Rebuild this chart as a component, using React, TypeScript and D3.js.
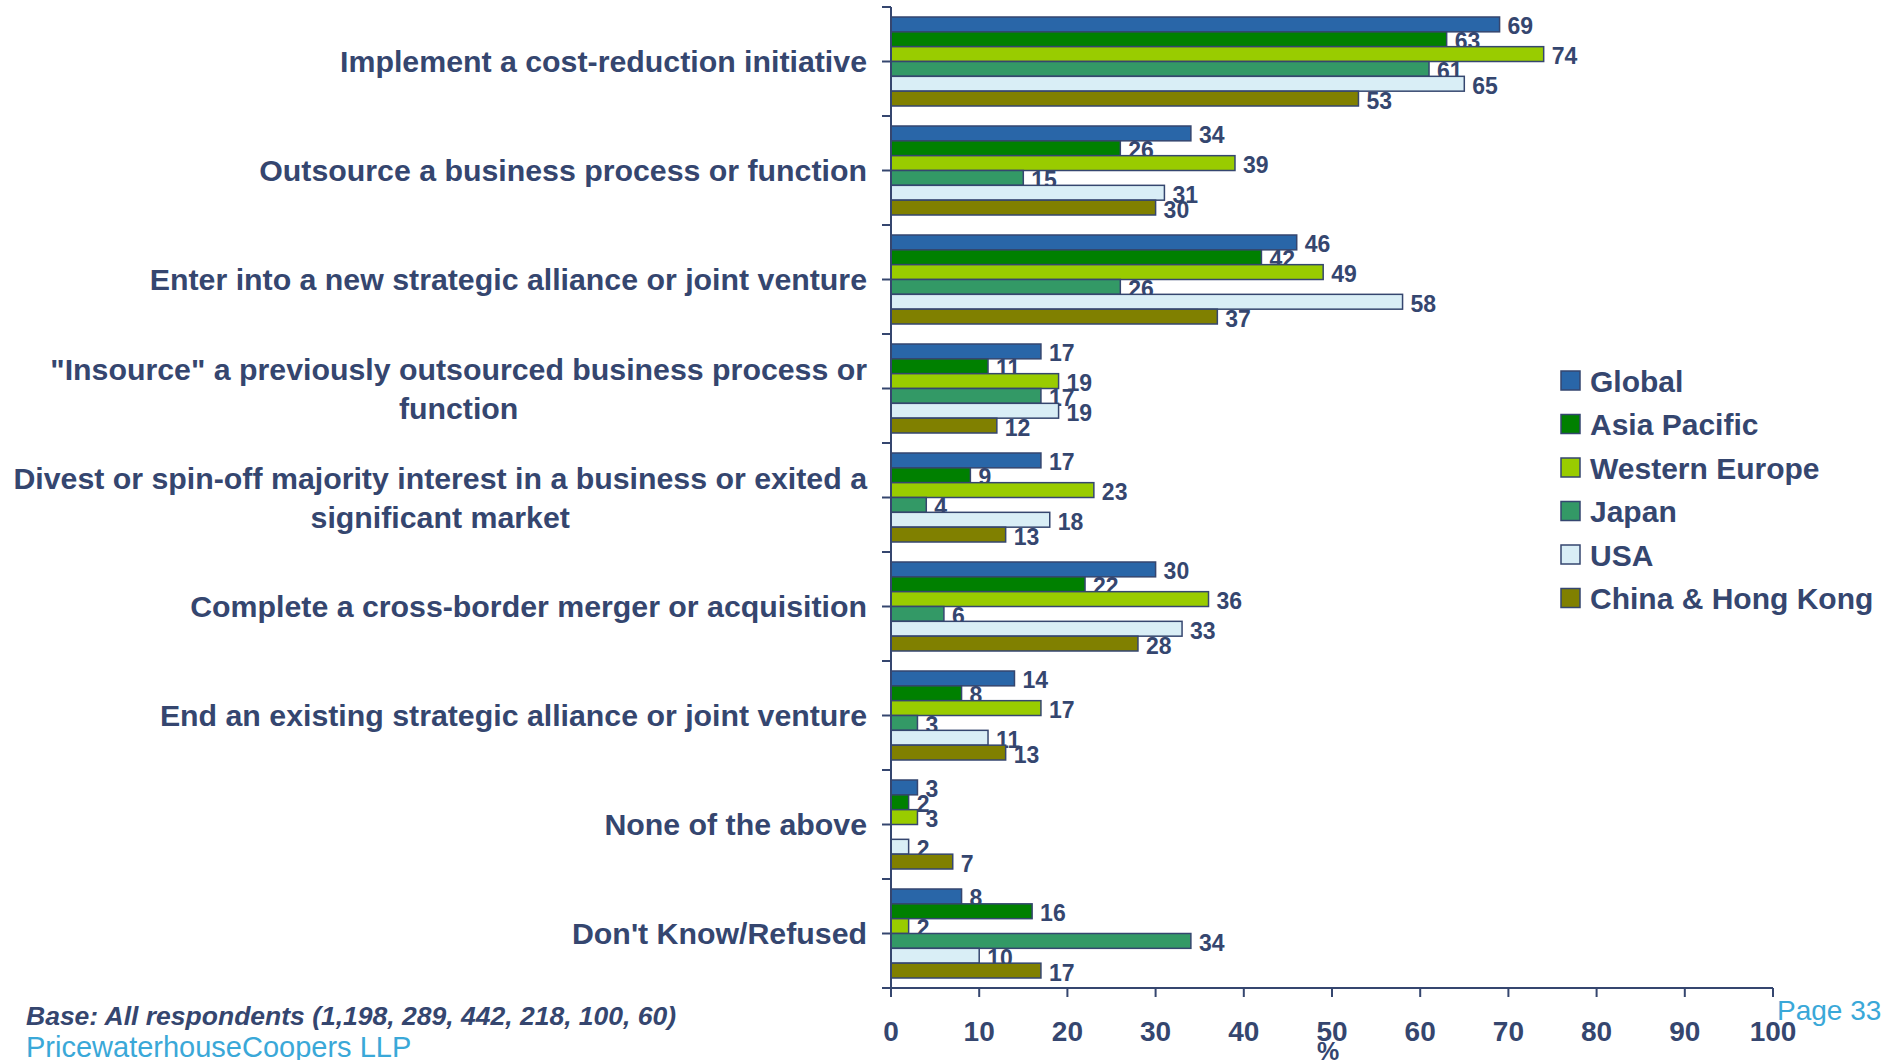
import { useEffect, useRef } from 'react'
import * as d3 from 'd3'

const CATEGORIES: string[][] = [
  ['Implement a cost-reduction initiative'],
  ['Outsource a business process or function'],
  ['Enter into a new strategic alliance or joint venture'],
  ['"Insource" a previously outsourced business process or', 'function'],
  ['Divest or spin-off majority interest in a business or exited a', 'significant market'],
  ['Complete a cross-border merger or acquisition'],
  ['End an existing strategic alliance or joint venture'],
  ['None of the above'],
  ["Don't Know/Refused"],
]

const SERIES = ['Global', 'Asia Pacific', 'Western Europe', 'Japan', 'USA', 'China & Hong Kong']

const GLOBAL = [69, 34, 46, 17, 17, 30, 14, 3, 8]
const ASIA_PACIFIC = [63, 26, 42, 11, 9, 22, 8, 2, 16]
const WESTERN_EUROPE = [74, 39, 49, 19, 23, 36, 17, 3, 2]
const JAPAN = [61, 15, 26, 17, 4, 6, 3, 0, 34]
const USA = [65, 31, 58, 19, 18, 33, 11, 2, 10]
const CHINA_HK = [53, 30, 37, 12, 13, 28, 13, 7, 17]

const VALUES = [GLOBAL, ASIA_PACIFIC, WESTERN_EUROPE, JAPAN, USA, CHINA_HK]

const X_TICKS = [0, 10, 20, 30, 40, 50, 60, 70, 80, 90, 100]

const COLORS = ['#2966A8', '#008000', '#99CC00', '#339966', '#D9EEF6', '#808000']
const NAVY = '#35466F'
const FONT = '"Liberation Sans", Arial, Helvetica, sans-serif'

export default function App() {
  const svgRef = useRef<SVGSVGElement>(null)

  useEffect(() => {
    if (!svgRef.current) return
    const svg = d3.select(svgRef.current)
    svg.selectAll('*').remove()

    const W = 1892
    const H = 1060
    const x0 = 891
    const x1 = 1773
    const yTop = 7
    const yBottom = 988

    svg.append('rect').attr('width', W).attr('height', H).attr('fill', '#ffffff')

    const x = d3.scaleLinear().domain([0, 100]).range([x0, x1])
    const y = d3.scaleBand<number>().domain(d3.range(CATEGORIES.length)).range([yTop, yBottom])
    const bw = y.bandwidth()
    const inner = d3.scaleBand<number>().domain(d3.range(SERIES.length)).range([10, bw - 10])

    const g = svg.append('g')

    // bars + value labels, series order so later bars sit over earlier labels
    CATEGORIES.forEach((_, ci) => {
      SERIES.forEach((_, si) => {
        const v = VALUES[si][ci]
        const by = (y(ci) ?? 0) + (inner(si) ?? 0)
        const bh = inner.bandwidth()
        if (v > 0) {
          g.append('rect')
            .attr('x', x(0)).attr('y', by)
            .attr('width', x(v) - x(0)).attr('height', bh)
            .attr('fill', COLORS[si]).attr('stroke', NAVY).attr('stroke-width', 1.5)
          g.append('text')
            .attr('x', x(v) + 8).attr('y', by + bh / 2 + 10)
            .attr('fill', NAVY).attr('font-size', '23px').attr('font-weight', 700)
            .attr('font-family', FONT)
            .text(v)
        }
      })
    })

    // y axis
    g.append('line').attr('x1', x0).attr('x2', x0).attr('y1', yTop).attr('y2', yBottom)
      .attr('stroke', NAVY).attr('stroke-width', 2)
    d3.range(CATEGORIES.length * 2 + 1).forEach((k) => {
      const ty = yTop + (k * bw) / 2
      g.append('line').attr('x1', x0 - 9).attr('x2', x0).attr('y1', ty).attr('y2', ty)
        .attr('stroke', NAVY).attr('stroke-width', 2)
    })

    // x axis
    g.append('line').attr('x1', x0 - 9).attr('x2', x1).attr('y1', yBottom).attr('y2', yBottom)
      .attr('stroke', NAVY).attr('stroke-width', 2)
    X_TICKS.forEach((t) => {
      g.append('line').attr('x1', x(t)).attr('x2', x(t)).attr('y1', yBottom).attr('y2', yBottom + 9)
        .attr('stroke', NAVY).attr('stroke-width', 2)
      g.append('text').attr('x', x(t)).attr('y', 1041)
        .attr('text-anchor', 'middle').attr('fill', NAVY)
        .attr('font-size', '28px').attr('font-weight', 700).attr('font-family', FONT)
        .text(t)
    })
    g.append('text').attr('x', x(50) - 4).attr('y', 1060)
      .attr('text-anchor', 'middle').attr('fill', NAVY)
      .attr('font-size', '25px').attr('font-weight', 700).attr('font-family', FONT)
      .text('%')

    // category labels: block right-aligned, lines centred on each other
    const labelRight = 867
    CATEGORIES.forEach((lines, ci) => {
      const cy = (y(ci) ?? 0) + bw / 2
      const lh = 39
      const texts = lines.map((line, li) =>
        g.append('text')
          .attr('y', cy + (li - (lines.length - 1) / 2) * lh + 10.5)
          .attr('fill', NAVY).attr('font-size', '30.3px').attr('font-weight', 700)
          .attr('font-family', FONT).attr('text-anchor', 'middle')
          .text(line)
      )
      const widths = texts.map((t) => (t.node() as SVGTextElement).getComputedTextLength())
      const maxW = Math.max(...widths)
      texts.forEach((t) => t.attr('x', labelRight - maxW / 2))
    })

    // legend
    const legend = svg.append('g').attr('transform', 'translate(1561,381)')
    SERIES.forEach((s, i) => {
      legend.append('rect').attr('x', 0).attr('y', i * 43.5 - 10).attr('width', 19).attr('height', 19)
        .attr('fill', COLORS[i]).attr('stroke', NAVY).attr('stroke-width', 1.5)
      legend.append('text').attr('x', 29).attr('y', i * 43.5 + 10.5)
        .attr('fill', NAVY).attr('font-size', '30px').attr('font-weight', 700).attr('font-family', FONT)
        .text(s)
    })

    // footer
    svg.append('text').attr('x', 26).attr('y', 1025)
      .attr('fill', NAVY).attr('font-size', '26.5px').attr('font-weight', 700).attr('font-style', 'italic')
      .attr('font-family', FONT)
      .text('Base: All respondents (1,198, 289, 442, 218, 100, 60)')
    svg.append('text').attr('x', 26).attr('y', 1057)
      .attr('fill', '#3AA8D8').attr('font-size', '29px').attr('font-family', FONT)
      .text('PricewaterhouseCoopers LLP')
    svg.append('text').attr('x', 1777).attr('y', 1020)
      .attr('fill', '#3AA8D8').attr('font-size', '28px').attr('font-family', FONT)
      .text('Page 33')
  }, [])

  return (
    <svg
      ref={svgRef}
      width={1892}
      height={1060}
      style={{ position: 'absolute', left: 0, top: 0, display: 'block' }}
    />
  )
}
